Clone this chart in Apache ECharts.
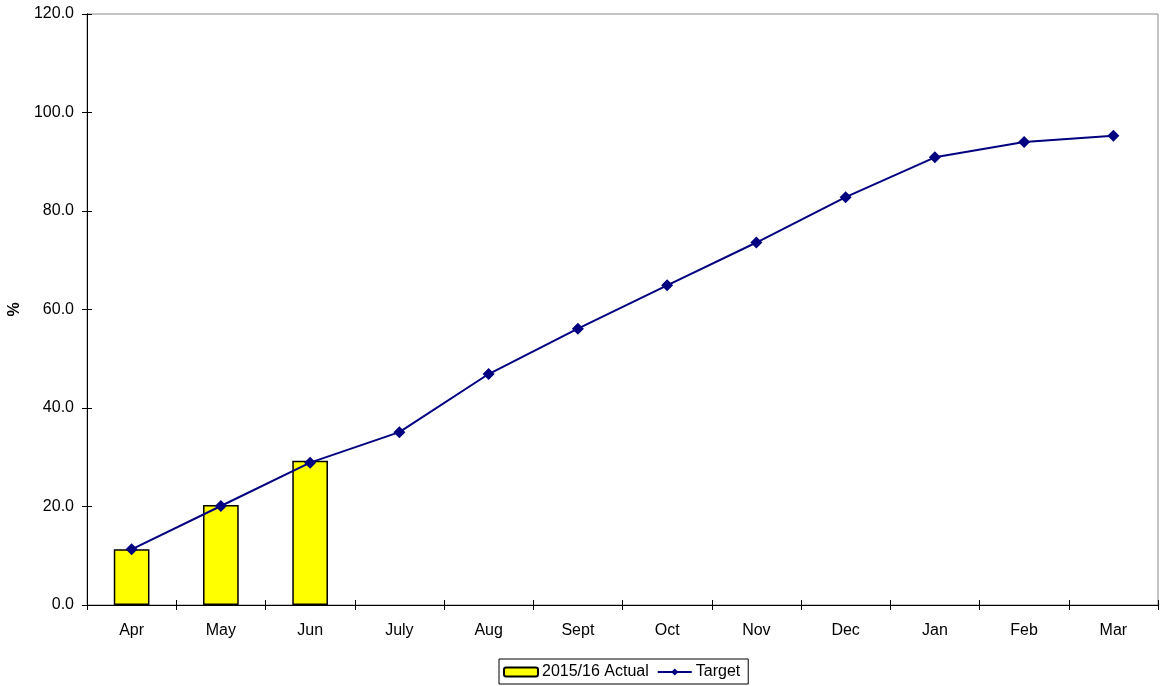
<!DOCTYPE html>
<html><head><meta charset="utf-8">
<script src="https://cdn.jsdelivr.net/npm/echarts@6/dist/echarts.min.js"></script>
<style>html,body{margin:0;padding:0;background:#fff}#c{width:1160px;height:686px}</style>
</head><body><div id="c"></div>
<script>
const categories = ['Apr','May','Jun','July','Aug','Sept','Oct','Nov','Dec','Jan','Feb','Mar'];
const actual = [11.3, 20.3, 29.3, null, null, null, null, null, null, null, null, null];
const target = [11.3, 20.1, 28.9, 35.1, 46.9, 56.1, 64.9, 73.6, 82.8, 90.9, 94.0, 95.3];
const yTicks = {min: 0, max: 120, interval: 20};

const chart = echarts.init(document.getElementById('c'), null, {renderer: 'canvas'});
const font = 'Liberation Sans, Arial, sans-serif';
const xBase = {
  type: 'category', data: categories, boundaryGap: true, offset: 0,
  axisLine: {lineStyle: {color: '#000', width: 1}}
};
const yBase = {
  type: 'value', min: yTicks.min, max: yTicks.max, interval: yTicks.interval, offset: 0,
  splitLine: {show: false},
  axisLine: {show: true, lineStyle: {color: '#000', width: 1}}
};
chart.setOption({
  animation: false,
  backgroundColor: '#fff',
  grid: {left: 87, right: 2, top: 14, bottom: 81, outerBoundsMode: 'none', containLabel: false,
         show: true, borderColor: '#888', borderWidth: 1, backgroundColor: 'transparent'},
  legend: {
    bottom: 2, left: 499,
    data: ['2015/16 Actual', 'Target'],
    borderColor: '#000', borderWidth: 1, padding: [5, 8, 4, 4],
    itemGap: 8, itemWidth: 34, itemHeight: 9,
    textStyle: {fontFamily: font, fontSize: 16, color: '#000', padding: [0, 0, 0, -1]}
  },
  xAxis: [
    Object.assign({}, xBase, {
      axisTick: {show: true, length: 5, lineStyle: {color: '#000'}},
      axisLabel: {fontFamily: font, fontSize: 16, color: '#000', margin: 18}
    }),
    Object.assign({}, xBase, {
      position: 'bottom',
      axisTick: {show: true, inside: true, length: 5, lineStyle: {color: '#000'}},
      axisLabel: {show: false}
    })
  ],
  yAxis: [
    Object.assign({}, yBase, {
      name: '%', nameLocation: 'middle', nameGap: 63, nameRotate: 90,
      nameTextStyle: {fontFamily: font, fontSize: 16, fontWeight: 'bold', color: '#000'},
      axisTick: {show: true, length: 5, lineStyle: {color: '#000'}},
      axisLabel: {fontFamily: font, fontSize: 16, color: '#000', margin: 13, formatter: v => v.toFixed(1)}
    }),
    Object.assign({}, yBase, {
      position: 'left',
      axisTick: {show: true, inside: true, length: 5, lineStyle: {color: '#000'}},
      axisLabel: {show: false}
    })
  ],
  series: [
    {name: '2015/16 Actual', type: 'bar', data: actual, barWidth: '40%',
     legendIcon: 'rect',
     itemStyle: {color: '#ffff00', borderColor: '#000', borderWidth: 1.5}},
    {name: 'Target', type: 'line', data: target, symbol: 'diamond', symbolSize: 12,
     lineStyle: {color: '#000080', width: 2}, itemStyle: {color: '#000080'}}
  ]
});
</script></body></html>
